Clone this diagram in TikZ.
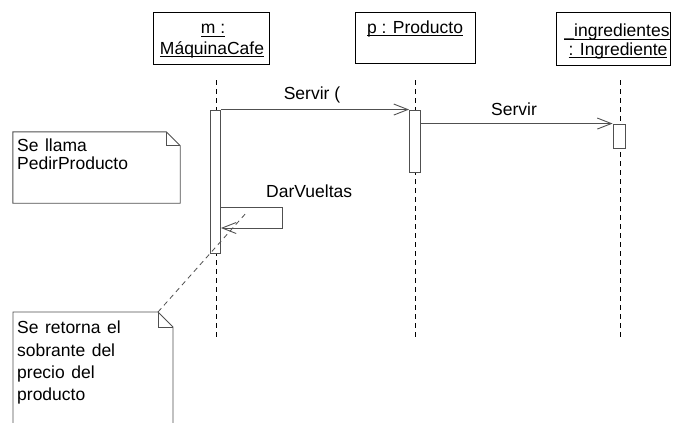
\documentclass[tikz,border=0pt]{standalone}
\usepackage{fontspec}
\setmainfont{Liberation Sans}
\usetikzlibrary{arrows.meta}
\definecolor{linegray}{HTML}{505050}
\newcommand\hdrul[1]{\setbox0\hbox{#1}\rlap{\rule[-2.5pt]{\wd0}{0.9pt}}\box0}
\newcommand\notefont{\fontsize{17.5}{18}\selectfont\spaceskip=6.5pt\relax}
\begin{document}
\begin{tikzpicture}[x=1pt,y=-1pt,
  font=\fontsize{17.5}{18}\selectfont,
  objbox/.style={draw=black, line width=0.9pt, inner sep=0pt},
  lbl/.style={anchor=base, inner sep=0pt},
  life/.style={draw=black, line width=0.9pt, dash pattern=on 5pt off 4pt},
  act/.style={draw=linegray, line width=0.9pt, fill=white, inner sep=0pt},
  msg/.style={draw=linegray, line width=0.9pt, -{Straight Barb[length=14pt,width=11pt,line width=0.9pt]}},
  notebox/.style={draw=none, inner sep=0pt},
  noteline/.style={draw=linegray, line width=0.9pt},
  notelink/.style={draw=linegray, line width=0.8pt, dash pattern=on 5pt off 4pt},
  notetext/.style={anchor=base west, inner sep=0pt, font=\notefont}
]
\useasboundingbox (0,0) rectangle (673,423);

% header boxes
\node[objbox, minimum width=116, minimum height=52] (mbox) at (211,38) {};
\node[objbox, minimum width=120, minimum height=51] (pbox) at (415,37.5) {};
\node[objbox, minimum width=114, minimum height=53] (ibox) at (613,38.5) {};
\node[lbl] (mt1) at (213,34) {\hdrul{m :}};
\node[lbl] (mt2) at (212,54) {\hdrul{MáquinaCafe}};
\node[lbl] (pt1) at (415,33) {\hdrul{p : Producto}};
\node[lbl] (it1) at (617,37) {\hdrul{\_ingredientes}};
\node[lbl] (it2) at (618,55) {\hdrul{: Ingrediente}};

% lifelines
\coordinate (mtop) at (216,80);
\coordinate (mbot) at (216,340);
\coordinate (ptop) at (415,80);
\coordinate (pbot) at (415,340);
\coordinate (itop) at (620,80);
\coordinate (ibot) at (620,340);
\draw[life] (mtop) -- (mbot);
\draw[life] (ptop) -- (pbot);
\draw[life] (itop) -- (ibot);

% activations
\node[act, minimum width=10, minimum height=143] (ma) at (215.5,181.5) {};
\node[act, minimum width=11, minimum height=62] (pa) at (415,141) {};
\node[act, minimum width=12, minimum height=24] (ia) at (619,136) {};

% messages
\draw[msg] (ma.north east) -- (pa.north west);
\node[lbl] (l1) at (312,99) {Servir (};
\coordinate (s2) at (pa.east |- ia.north);
\draw[msg] (s2) -- (ia.north west);
\node[lbl] (l2) at (514,115) {Servir};

% self message
\coordinate (d1) at (ma.east |- 0,207);
\coordinate (d2) at (282,207);
\coordinate (d3) at (282,228);
\coordinate (d4) at (ma.east |- 0,228);
\draw[msg] (d1) -- (d2) -- (d3) -- (d4);
\node[lbl, anchor=base west] (l3) at (266,197) {DarVueltas};

% note 1
\node[notebox, minimum width=167, minimum height=71] (n1) at (96.5,167.5) {};
\draw[noteline] (n1.north west) -- ([xshift=-14pt]n1.north east) -- ([yshift=-14pt]n1.north east) -- (n1.south east) -- (n1.south west) -- cycle;
\draw[noteline] ([xshift=-14pt]n1.north east) -- ([xshift=-14pt,yshift=-14pt]n1.north east) -- ([yshift=-14pt]n1.north east);
\node[notetext] (n1t1) at (17,151) {Se llama};
\node[notetext] (n1t2) at (17,169) {PedirProducto};

% note 2 (cut off at the bottom)
\coordinate (n2a) at (13,430);
\coordinate (n2b) at (13,312);
\coordinate (n2c) at (158,312);
\coordinate (n2d) at (173,327);
\coordinate (n2e) at (173,430);
\coordinate (n2f) at (158,327);
\draw[noteline] (n2a) -- (n2b) -- (n2c) -- (n2d) -- (n2e);
\draw[noteline] (n2c) -- (n2f) -- (n2d);
\node[notetext] (n2t1) at (17,333) {Se retorna el};
\node[notetext] (n2t2) at (17,356) {sobrante del};
\node[notetext] (n2t3) at (17,378) {precio del};
\node[notetext] (n2t4) at (17,400) {producto};

% link from note 2
\coordinate (lk) at (247,212);
\draw[notelink] (n2c) -- (lk);
\end{tikzpicture}
\end{document}
